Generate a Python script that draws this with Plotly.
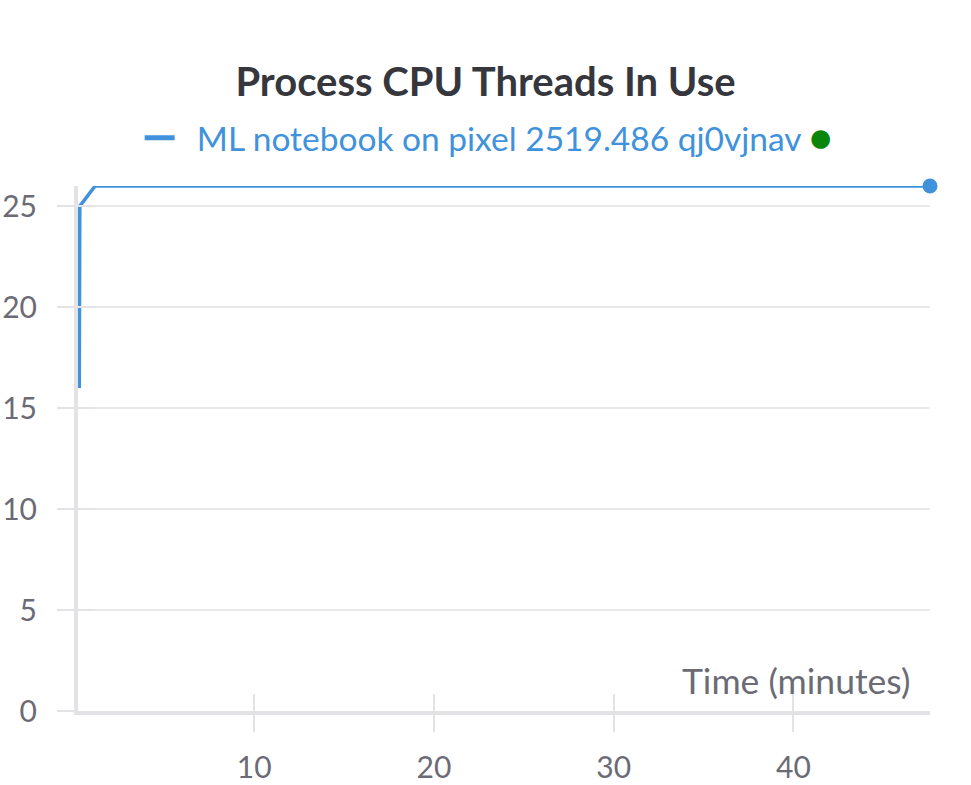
import plotly.graph_objects as go

# Data (time in minutes, threads)
time_min = [0.27, 0.28, 0.30, 1.15, 5, 10, 15, 20, 25, 30, 35, 40, 45, 47.6]
threads = [16, 20, 25, 26, 26, 26, 26, 26, 26, 26, 26, 26, 26, 26]
series_name = "ML notebook on pixel 2519.486 qj0vjnav"
title_text = "Process CPU Threads In Use"
x_title = "Time (minutes)"
x_ticks = [10, 20, 30, 40]
y_ticks = [0, 5, 10, 15, 20, 25]

LINE = "#4092dc"
GRID = "#e9e9ec"
AXIS = "#e3e3e6"
TICKC = "#6b6b76"
FONT = "Lato"

fig = go.Figure()
fig.add_trace(go.Scatter(
    x=time_min, y=threads, mode="lines",
    line=dict(color=LINE, width=3.5), showlegend=False,
))
fig.add_trace(go.Scatter(
    x=[time_min[-1]], y=[threads[-1]], mode="markers", cliponaxis=False,
    marker=dict(color=LINE, size=15), showlegend=False,
))
# legend entry
fig.add_trace(go.Scatter(
    x=[None], y=[None], mode="lines", line=dict(color=LINE, width=5),
    name="&nbsp;&nbsp;" + series_name + " <span style='color:#0a870a;font-size:38px'>●</span>",
))
# helper invisible trace on overlay axes for inside ticks
fig.add_trace(go.Scatter(x=[time_min[0]], y=[threads[0]], xaxis="x2", yaxis="y2",
                         mode="markers", marker=dict(opacity=0), showlegend=False,
                         hoverinfo="skip"))

xr = [0.2, 47.6]
yr = [0, 26]
fig.update_layout(
    width=971, height=785,
    margin=dict(l=78, r=41, t=186, b=74, autoexpand=False),
    paper_bgcolor="white", plot_bgcolor="white",
    font=dict(family=FONT, color=TICKC, size=30),
    title=dict(text="<b>" + title_text + "</b>", x=0.5, xanchor="center",
               y=1 - 82 / 785, yanchor="middle",
               font=dict(family=FONT, size=40, color="#35373d")),
    showlegend=True,
    legend=dict(orientation="h", x=0.482, xanchor="center", y=1 - 138 / 785, yref="container",
                yanchor="middle", font=dict(family=FONT, size=33.5, color=LINE),
                bgcolor="rgba(0,0,0,0)"),
    xaxis=dict(range=xr, tickvals=x_ticks, ticks="outside", ticklen=17, tickwidth=2,
               tickcolor=AXIS, showline=True, linecolor=AXIS, linewidth=4,
               showgrid=False, zeroline=False, tickfont=dict(size=30, color=TICKC),
               ticklabelstandoff=10, automargin=False),
    yaxis=dict(range=yr, tickvals=y_ticks, ticks="outside", ticklen=17, tickwidth=2,
               tickcolor=AXIS, showline=True, linecolor=AXIS, linewidth=4,
               showgrid=True, gridcolor=GRID, gridwidth=1.5, zeroline=False,
               tickfont=dict(size=30, color=TICKC), ticklabelstandoff=14, automargin=False),
    xaxis2=dict(range=xr, overlaying="x", tickvals=x_ticks, ticks="inside", ticklen=17,
                tickwidth=2, tickcolor=AXIS, showticklabels=False, showgrid=False,
                zeroline=False, showline=False),
    yaxis2=dict(range=yr, overlaying="y", tickvals=y_ticks, ticks="inside", ticklen=17,
                tickwidth=2, tickcolor=AXIS, showticklabels=False, showgrid=False,
                zeroline=False, showline=False),
    annotations=[dict(text=x_title, xref="paper", yref="paper", x=1, y=0,
                      xanchor="right", yanchor="bottom", yshift=7, xshift=-18, showarrow=False,
                      font=dict(family=FONT, size=35.5, color=TICKC))],
)
fig.write_html("out.html")
